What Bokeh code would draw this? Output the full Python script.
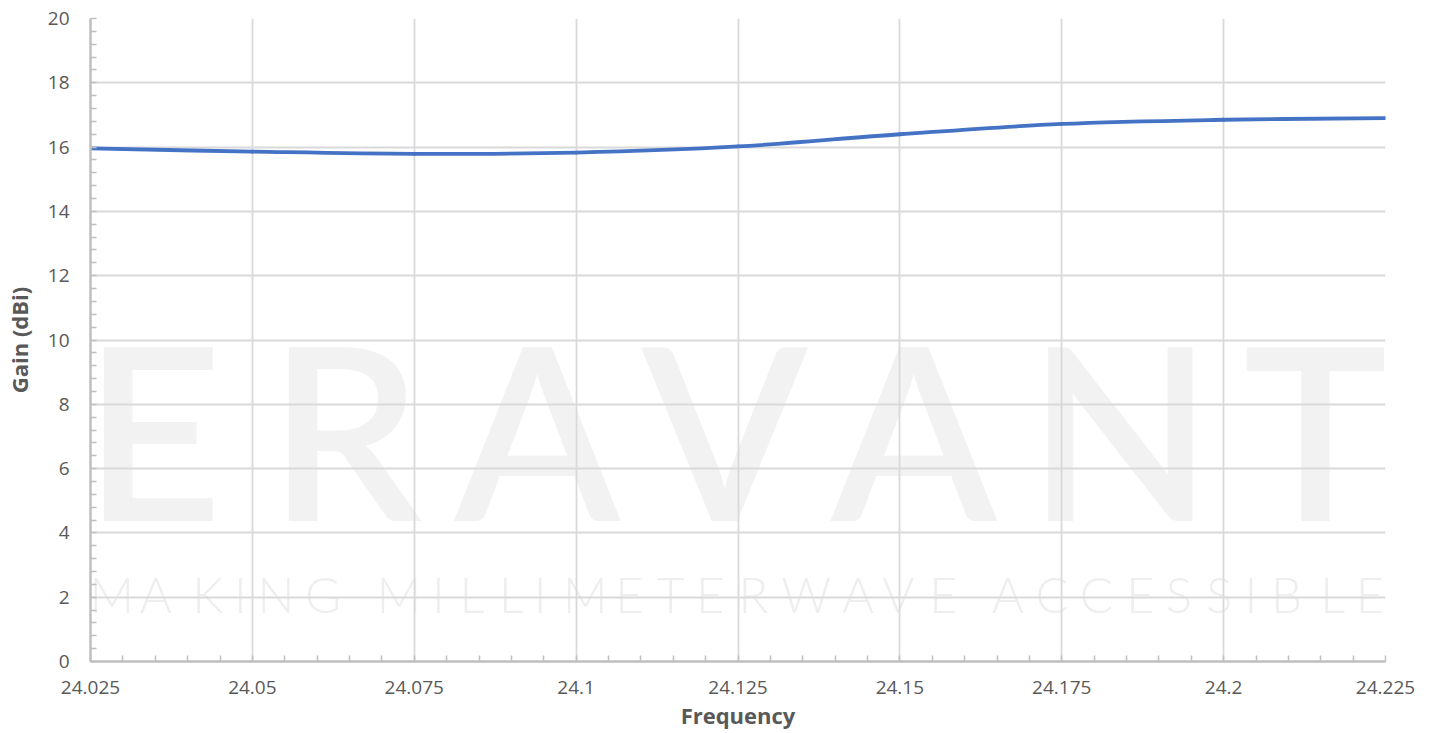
import numpy as np
from bokeh.plotting import figure
from bokeh.models import FixedTicker, Label, Range1d, ColumnDataSource
from bokeh.embed import file_html
from bokeh.resources import INLINE

# ---- data ----
frequency = [24.025, 24.05, 24.075, 24.1, 24.125, 24.15, 24.175, 24.2, 24.225]
gain = [15.96, 15.86, 15.79, 15.83, 16.02, 16.40, 16.72, 16.85, 16.90]

x_ticks = [24.025, 24.05, 24.075, 24.1, 24.125, 24.15, 24.175, 24.2, 24.225]
x_tick_labels = ["24.025", "24.05", "24.075", "24.1", "24.125", "24.15", "24.175", "24.2", "24.225"]
y_ticks = [0, 2, 4, 6, 8, 10, 12, 14, 16, 18, 20]
y_tick_labels = ["0", "2", "4", "6", "8", "10", "12", "14", "16", "18", "20"]

x_title = "Frequency"
y_title = "Gain (dBi)"
brand = "ERAVANT"
tagline = "MAKING MILLIMETERWAVE ACCESSIBLE"

XMIN, XMAX = 24.025, 24.225
YMIN, YMAX = 0, 20

# ---- figure ----
p = figure(width=1435, height=733, output_backend="svg", toolbar_location=None,
           x_range=Range1d(XMIN, XMAX), y_range=Range1d(YMIN, YMAX),
           min_border_left=90, min_border_right=50, min_border_top=18, min_border_bottom=72)
p.background_fill_color = "white"
p.border_fill_color = "white"
p.outline_line_color = None

# pixel -> data helpers for decorative watermark placement (frame 90..1385, 18..661)
FX0, FX1, FY0, FY1 = 90, 1385, 661, 18
def px2x(px):
    return XMIN + (px - FX0) / (FX1 - FX0) * (XMAX - XMIN)
def py2y(py):
    return YMIN + (FY0 - py) / (FY0 - FY1) * (YMAX - YMIN)

# horizontal squeeze so the watermark stays inside the (clipped) frame
SRC0, SRC1, DST0, DST1 = 78, 1420, 93, 1382
def sq(px):
    return DST0 + (px - SRC0) / (SRC1 - SRC0) * (DST1 - DST0)

BASE_SHIFT = 0.396  # baseline compensation (fraction of font size)

# ---- watermark (behind grid) ----
big_size = 242
big_centers = [140, 340, 540, 735, 932, 1147, 1350]
for ch, cx in zip(brand, big_centers):
    lab = Label(x=px2x(sq(cx)), y=py2y(523 - BASE_SHIFT * big_size), text=ch, text_align="center",
                text_baseline="alphabetic", text_font="Lato Semibold",
                text_font_size=f"{big_size}px", text_color="#f2f2f2", level="image")
    p.add_layout(lab)

small_size = 49
small_centers = [97, 143, 197, 231, 268, 317, None, 396, 437, 472, 513, 543, 590, 636, 679,
                 720, 765, 820, 874, 916, 963, None, 1030, 1076, 1122, 1168, 1208, 1250,
                 1283, 1320, 1368, 1407]
for ch, cx in zip(tagline, small_centers):
    if cx is None or ch == " ":
        continue
    lab = Label(x=px2x(sq(cx)), y=py2y(613 - BASE_SHIFT * small_size), text=ch, text_align="center",
                text_baseline="alphabetic", text_font="Lato Light",
                text_font_size=f"{small_size}px", text_color="#eeeeee", level="image")
    p.add_layout(lab)

# ---- smooth line (Catmull-Rom style bezier segments from data) ----
xs = np.array(frequency)
ys = np.array(gain)
n = len(xs)
xp = np.concatenate([[xs[0]], xs, [xs[-1]]])
yp = np.concatenate([[ys[0]], ys, [ys[-1]]])
x0 = xs[:-1]; y0 = ys[:-1]; x1 = xs[1:]; y1 = ys[1:]
cx0 = xs[:-1] + (xp[2:n+1] - xp[0:n-1]) / 6.0
cy0 = ys[:-1] + (yp[2:n+1] - yp[0:n-1]) / 6.0
cx1 = xs[1:] - (xp[3:n+2] - xp[1:n]) / 6.0
cy1 = ys[1:] - (yp[3:n+2] - yp[1:n]) / 6.0
src = ColumnDataSource(dict(x0=x0, y0=y0, x1=x1, y1=y1, cx0=cx0, cy0=cy0, cx1=cx1, cy1=cy1))
p.bezier(x0="x0", y0="y0", x1="x1", y1="y1", cx0="cx0", cy0="cy0", cx1="cx1", cy1="cy1",
         source=src, line_color="#4472c4", line_width=3.8, line_cap="round")

# ---- axes ----
minor_x = [round(XMIN + i * 0.005, 3) for i in range(41)]
minor_y = [round(i * 0.4, 1) for i in range(51)]
p.xaxis.ticker = FixedTicker(ticks=x_ticks, minor_ticks=minor_x)
p.yaxis.ticker = FixedTicker(ticks=y_ticks, minor_ticks=minor_y)
p.xaxis.major_label_overrides = {t: l for t, l in zip(x_ticks, x_tick_labels)}
p.yaxis.major_label_overrides = {t: l for t, l in zip(y_ticks, y_tick_labels)}

for ax in (p.xaxis[0], p.yaxis[0]):
    ax.axis_line_color = "#bfbfbf"
    ax.axis_line_width = 2.5
    ax.major_tick_in = 0
    ax.major_tick_out = 0
    ax.minor_tick_in = 6
    ax.minor_tick_out = 0
    ax.minor_tick_line_color = "#bfbfbf"
    ax.minor_tick_line_width = 1.5
    ax.major_label_text_font = "Open Sans"
    ax.major_label_text_font_size = "19px"
    ax.major_label_text_color = "#595959"
    ax.axis_label_text_font = "Open Sans"
    ax.axis_label_text_font_size = "22px"
    ax.axis_label_text_font_style = "bold"
    ax.axis_label_text_color = "#595959"

p.xaxis.axis_label = x_title
p.yaxis.axis_label = y_title
p.xaxis.major_label_standoff = 19
p.xaxis.axis_label_standoff = 3
p.yaxis.major_label_standoff = 21
p.yaxis.axis_label_standoff = 11

p.xgrid.ticker = FixedTicker(ticks=x_ticks)
p.ygrid.ticker = FixedTicker(ticks=y_ticks)
p.grid.grid_line_color = "#d9d9d9"
p.grid.grid_line_width = 1.8

open("out.html", "w").write(file_html(p, INLINE))
